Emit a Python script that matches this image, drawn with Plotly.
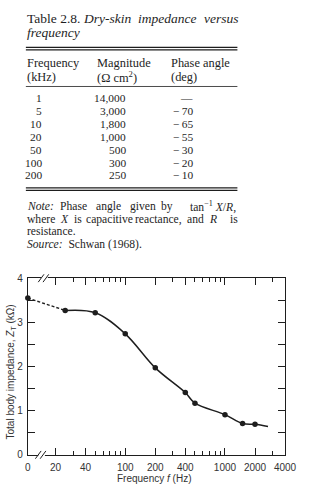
import plotly.graph_objects as go
import math

# ---------------- data ----------------
# Table 2.8
table_freq_khz = [1, 5, 10, 20, 50, 100, 200]
table_magnitude = [14000, 3000, 1800, 1000, 500, 300, 250]
table_phase_deg = [None, -70, -65, -55, -30, -20, -10]

# Figure: total body impedance vs frequency
dc_impedance_kohm = 3.55          # value plotted at "0" Hz (axis break)
freq_hz = [25, 50, 100, 200, 400, 500, 1000, 1500, 2000]
impedance_kohm = [3.27, 3.22, 2.74, 1.97, 1.41, 1.17, 0.91, 0.71, 0.69]
curve_end_hz = 2700               # fitted curve extends past last point
curve_end_kohm = 0.64

x_tick_vals = [20, 40, 100, 200, 400, 1000, 2000, 4000]
x_tick_text = ["20", "40", "100", "200", "400", "1000", "2000", "4000"]
x_minor_vals = [30, 50, 60, 70, 80, 90, 300, 500, 600, 700, 800, 900, 3000]
axis_zero_hz = 10.55              # position on broken log axis labelled "0"
x_max_hz = 4000

y_tick_vals = [0, 1, 2, 3, 4]
y_minor_vals = [0.5, 1.5, 2.5, 3.5]

# ---------------- layout helpers ----------------
W, H = 318, 494
def px(x):
    return x / W
def py(y):
    return 1 - y / H

SERIF = "Liberation Serif"
SANS = "Liberation Sans"
INK = "#1e1e1e"
BODY = 11.6
HEAD = 12.4
ROW = 11.4
TITLE = 13.5

fig = go.Figure()

# dashed segment from DC value to first measured point
fig.add_trace(go.Scatter(
    x=[axis_zero_hz, freq_hz[0]], y=[dc_impedance_kohm, impedance_kohm[0]],
    mode="lines", line=dict(color=INK, width=1.4, dash="3px,2px"),
    cliponaxis=False, hoverinfo="skip", showlegend=False))
# smooth curve
fig.add_trace(go.Scatter(
    x=freq_hz + [curve_end_hz], y=impedance_kohm + [curve_end_kohm],
    mode="lines", line=dict(color=INK, width=1.5, shape="spline", smoothing=1.0),
    hoverinfo="skip", showlegend=False))
# measured points
fig.add_trace(go.Scatter(
    x=[axis_zero_hz] + freq_hz, y=[dc_impedance_kohm] + impedance_kohm,
    mode="markers", marker=dict(color=INK, size=5.5),
    cliponaxis=False, showlegend=False))

fig.update_xaxes(
    type="log", range=[math.log10(axis_zero_hz) - 0.0005, math.log10(x_max_hz)],
    domain=[px(26), px(296)],
    tickmode="array", tickvals=[axis_zero_hz] + x_tick_vals, ticktext=["0"] + x_tick_text,
    ticks="inside", ticklen=7, tickwidth=1, tickcolor=INK,
    minor=dict(tickmode="array", tickvals=x_minor_vals, ticks="inside",
               ticklen=4, tickwidth=1, tickcolor=INK, showgrid=False),
    showline=True, linecolor=INK, linewidth=1, mirror="ticks",
    showgrid=False, zeroline=False,
    tickfont=dict(family=SANS, size=10, color="#333"),
    ticklabelstandoff=3,
)
fig.update_yaxes(
    range=[0, 4], domain=[py(460), py(279)],
    tickmode="array", tickvals=y_tick_vals,
    ticks="inside", ticklen=7, tickwidth=1, tickcolor=INK,
    minor=dict(tickmode="array", tickvals=y_minor_vals, ticks="inside",
               ticklen=7, tickwidth=1, tickcolor=INK, showgrid=False),
    showline=True, linecolor=INK, linewidth=1, mirror="ticks",
    showgrid=False, zeroline=False,
    tickfont=dict(family=SANS, size=10, color="#333"),
    ticklabelstandoff=2,
)

shapes = []
annotations = []

def text(x, y, s, anchor="left", size=BODY, family=SERIF, color=INK, **kw):
    annotations.append(dict(x=px(x), y=py(y), xref="paper", yref="paper", text=s,
                            showarrow=False, xanchor=anchor, yanchor="middle",
                            borderpad=0,
                            font=dict(family=family, size=size, color=color), **kw))

def hline(x0, x1, y, width=1.0):
    shapes.append(dict(type="line", xref="paper", yref="paper",
                       x0=px(x0), x1=px(x1), y0=py(y), y1=py(y),
                       line=dict(color=INK, width=width)))

# ---- table title (justified: words centred where they sit in the page) ----
text(52.5, 13, "Table 2.8.", anchor="center", size=TITLE)
text(109.5, 13, "<i>Dry-skin</i>", anchor="center", size=TITLE)
text(172, 13, "<i>impedance</i>", anchor="center", size=TITLE)
text(229.5, 13, "<i>versus</i>", anchor="center", size=TITLE)
text(24, 27.5, "<i>frequency</i>", size=TITLE)

hline(24, 246, 42.5, 1.2)
hline(24, 246, 45, 1.2)

text(24, 58, "Frequency", size=HEAD)
text(24, 72.5, "(kHz)", size=HEAD)
text(98, 58, "Magnitude", size=HEAD)
text(98, 72.5, "(Ω cm<sup>2</sup>)", size=HEAD)
text(175, 58, "Phase angle", size=HEAD)
text(175, 72.5, "(deg)", size=HEAD)
hline(24, 246, 82.5, 0.8)

row_y0, row_dy = 94.4, 13.2
for i, (f, m, p) in enumerate(zip(table_freq_khz, table_magnitude, table_phase_deg)):
    y = row_y0 + i * row_dy
    text(42, y, f"{f}", anchor="right", size=ROW)
    text(130.5, y, f"{m:,}", anchor="right", size=ROW)
    ptxt = "—" if p is None else f"\u2212\u2009{abs(p)}"
    text(200, y, ptxt, anchor="right", size=ROW)

hline(24, 246, 186.5, 1.2)
hline(24, 246, 189, 1.2)

# ---- note (justified lines) ----
y1 = 205.5
for cx, w in [(39, "<i>Note:</i>"), (73.5, "Phase"), (111, "angle"), (147, "given"),
              (172.5, "by")]:
    text(cx, y1, w, anchor="center")
text(246, y1, "tan<sup>\u22121</sup> <i>X</i>/<i>R</i>,", anchor="right")
y2 = 218.5
for cx, w in [(40, "where"), (65, "<i>X</i>"), (78.5, "is"), (112, "capacitive"),
              (163, "reactance,"), (202, "and"), (220, "<i>R</i>"), (242.5, "is")]:
    text(cx, y2, w, anchor="center")
text(24, 231.5, "resistance.")
text(24, 244.5, "<i>Source:</i>  Schwan (1968).")

# ---- chart titles ----
text(158, 484, "Frequency <i>f</i> (Hz)", anchor="center", size=10, family=SANS, color="#333")
annotations.append(dict(x=px(8), y=py(375), xref="paper", yref="paper",
                        text="Total body impedance, <i>Z</i><sub>T</sub> (kΩ)",
                        showarrow=False, textangle=-90, xanchor="center", yanchor="middle",
                        borderpad=0,
                        font=dict(family=SANS, size=10, color="#333")))

# ---- axis break marks ----
for yb in (460, 279):
    xo = 0 if yb == 460 else 3
    shapes.append(dict(type="rect", xref="paper", yref="paper",
                       x0=px(37 + xo), x1=px(44 + xo), y0=py(yb + 1.5), y1=py(yb - 1.5),
                       fillcolor="white", line=dict(width=0)))
    for dx in (0, 5):
        shapes.append(dict(type="line", xref="paper", yref="paper",
                           x0=px(34 + xo + dx), y0=py(yb + 4), x1=px(40 + xo + dx), y1=py(yb - 4),
                           line=dict(color=INK, width=1)))

fig.update_layout(
    width=W, height=H, margin=dict(l=0, r=0, t=0, b=0),
    paper_bgcolor="white", plot_bgcolor="white",
    shapes=shapes, annotations=annotations, showlegend=False,
)

fig.write_html("out.html")
